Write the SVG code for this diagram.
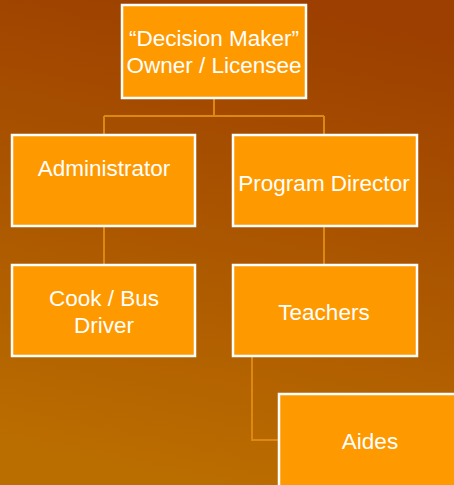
<svg xmlns="http://www.w3.org/2000/svg" width="454" height="485" viewBox="0 0 454 485">
<defs>
<linearGradient id="bg" x1="0.6" y1="0" x2="0.4" y2="1">
<stop offset="0" stop-color="#9c3f00"/>
<stop offset="1" stop-color="#bb6e00"/>
</linearGradient>
<style>
.box{fill:#ff9900;stroke:#ffffff;stroke-width:2.5}
.t{font-family:"Liberation Sans",Arial,sans-serif;font-size:22.5px;fill:#ffffff;text-anchor:middle}
.c{fill:none;stroke:#dd8812;stroke-width:2}
</style>
</defs>
<rect width="454" height="485" fill="url(#bg)"/>
<g id="connectors">
<path class="c" d="M214 98V116M104 116H324M104 116V135M324 116V135"/>
<path class="c" d="M104 226V264M324 226V264"/>
<path class="c" d="M252 357V440H279"/>
</g>
<g id="owner">
<rect class="box" x="122" y="5" width="184" height="93"/>
<text class="t" x="214" y="46">“Decision Maker”</text>
<text class="t" x="214" y="73">Owner / Licensee</text>
</g>
<g id="administrator">
<rect class="box" x="12" y="135" width="183" height="91"/>
<text class="t" x="104" y="176">Administrator</text>
</g>
<g id="program-director">
<rect class="box" x="233" y="135" width="184" height="91"/>
<text class="t" x="324" y="191">Program Director</text>
</g>
<g id="cook">
<rect class="box" x="12" y="265" width="183" height="91"/>
<text class="t" x="104" y="306">Cook / Bus</text>
<text class="t" x="104" y="333">Driver</text>
</g>
<g id="teachers">
<rect class="box" x="233" y="265" width="184" height="91"/>
<text class="t" x="324" y="320">Teachers</text>
</g>
<g id="aides">
<rect class="box" x="279" y="394" width="185" height="100"/>
<text class="t" x="370" y="449">Aides</text>
</g>
</svg>
